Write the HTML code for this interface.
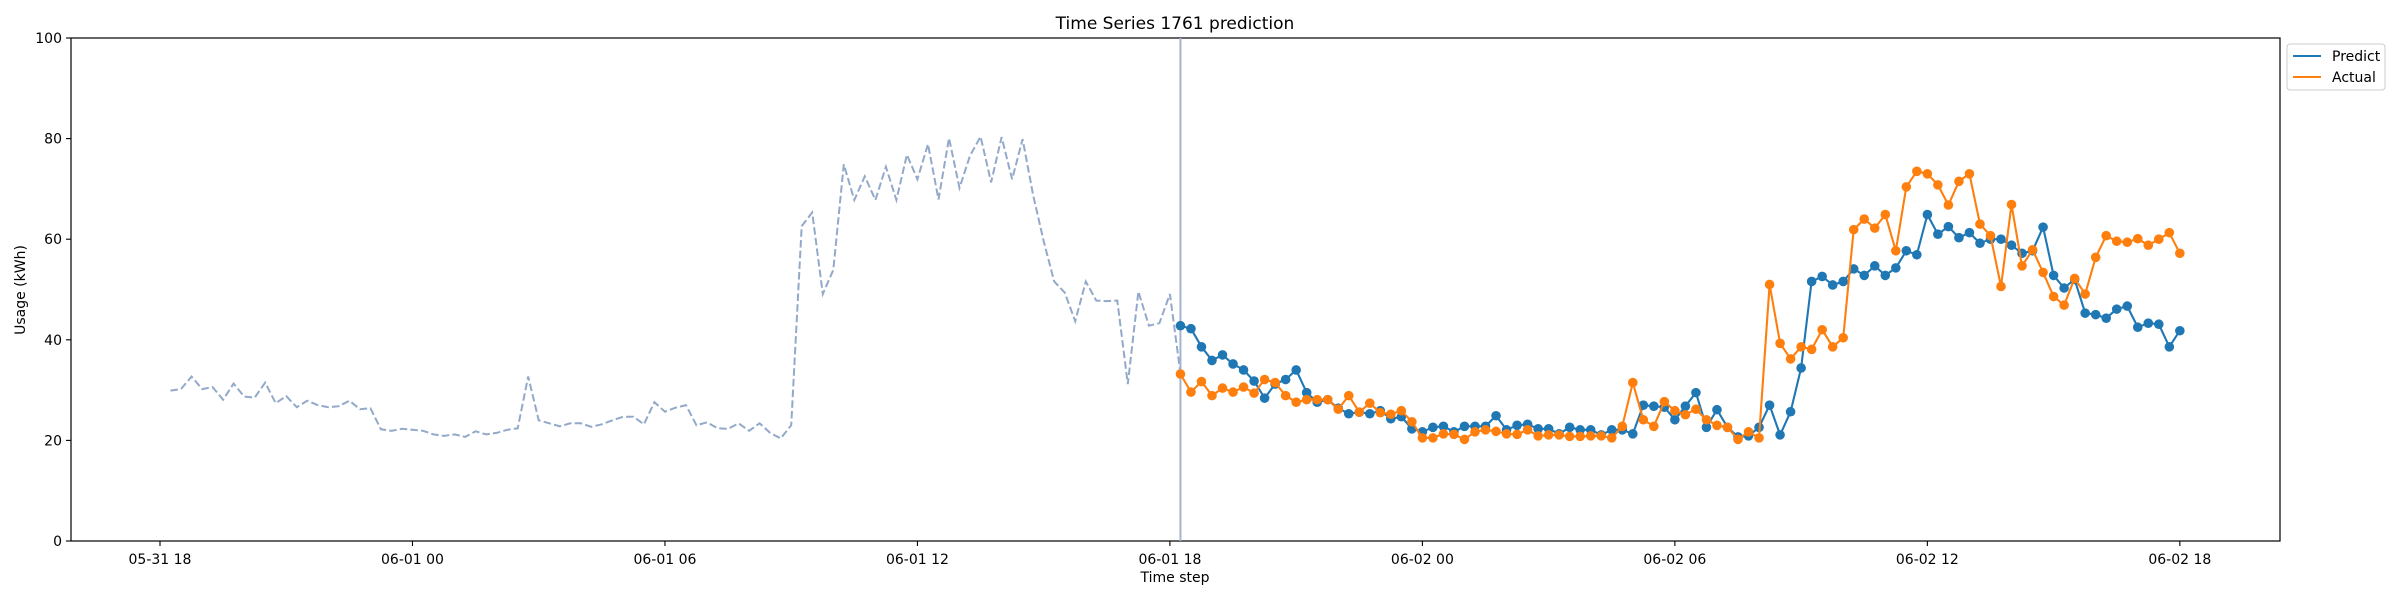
<!DOCTYPE html>
<html><head><meta charset="utf-8"><style>
html,body{margin:0;padding:0;background:#fff;}
svg{display:block;font-family:"DejaVu Sans","Liberation Sans",sans-serif;}
</style></head><body>
<svg id="chart" width="2400" height="600" viewBox="0 0 2400 600" xmlns="http://www.w3.org/2000/svg">
<rect x="0" y="0" width="2400" height="600" fill="#fff"/>
<text x="1175" y="29" font-size="17" text-anchor="middle" fill="#000">Time Series 1761 prediction</text>
<g id="plot"></g>
<text x="1175" y="582" font-size="14" text-anchor="middle" fill="#000">Time step</text>
<text transform="translate(25,290) rotate(-90)" font-size="14" text-anchor="middle" fill="#000">Usage (kWh)</text>
<g>
<rect x="2287" y="44" width="98" height="46" fill="#fff" stroke="#ccc" stroke-width="1" rx="3"/>
<line x1="2293" y1="56" x2="2321" y2="56" stroke="#1f77b4" stroke-width="2.1"/>
<text x="2332" y="61" font-size="14" fill="#000">Predict</text>
<line x1="2293" y1="77" x2="2321" y2="77" stroke="#ff7f0e" stroke-width="2.1"/>
<text x="2332" y="82" font-size="14" fill="#000">Actual</text>
</g>
</svg>
<script>
const history = [29.9,30.2,32.7,30.2,30.6,28.1,31.3,28.7,28.5,31.5,27.4,28.8,26.6,27.9,27.0,26.6,26.8,27.9,26.2,26.4,22.2,21.9,22.3,22.1,21.9,21.2,20.9,21.2,20.7,21.8,21.2,21.5,22.1,22.4,32.7,24.0,23.4,22.8,23.4,23.4,22.7,23.2,24.0,24.7,24.7,23.2,27.6,25.7,26.5,27.0,23.0,23.6,22.4,22.3,23.4,21.9,23.4,21.5,20.4,23.0,62.6,65.3,49.1,53.9,74.9,67.8,72.5,67.8,74.4,67.8,76.8,71.9,78.9,67.9,80.1,70.2,76.6,80.4,71.3,80.3,71.9,79.9,68.7,59.6,51.6,49.4,43.7,51.6,47.8,47.7,47.8,31.2,49.6,42.8,43.3,49.1,33.4];
const predict = [42.8,42.2,38.6,35.9,37.0,35.2,34.0,31.8,28.4,31.2,32.1,34.0,29.5,27.6,28.1,26.4,25.3,25.6,25.3,25.9,24.3,24.7,22.3,21.7,22.6,22.8,21.7,22.8,22.8,22.8,24.9,22.1,23.0,23.2,22.3,22.3,21.3,22.6,22.1,22.1,21.1,22.1,22.1,21.3,27.0,26.8,26.6,24.1,26.8,29.5,22.6,26.1,22.6,20.7,20.9,22.6,27.0,21.1,25.7,34.4,51.6,52.6,50.9,51.6,54.1,52.8,54.7,52.8,54.3,57.7,56.9,64.9,61.0,62.5,60.3,61.3,59.2,60.0,60.0,58.8,57.2,57.7,62.4,52.8,50.3,52.0,45.3,45.0,44.3,46.1,46.7,42.5,43.3,43.1,38.6,41.8];
const actual = [33.2,29.6,31.7,28.9,30.4,29.6,30.6,29.4,32.1,31.5,28.9,27.6,28.1,28.1,28.1,26.2,28.9,25.6,27.4,25.5,25.2,25.9,23.7,20.5,20.5,21.3,21.2,20.2,21.7,22.1,21.8,21.3,21.2,22.1,20.9,21.1,21.1,20.8,20.8,20.9,20.9,20.5,22.8,31.5,24.1,22.8,27.7,25.9,25.1,26.2,24.1,23.0,22.6,20.2,21.7,20.5,51.0,39.3,36.2,38.6,38.1,42.0,38.6,40.4,61.9,64.0,62.2,64.9,57.7,70.4,73.5,73.0,70.8,66.8,71.5,73.0,63.0,60.7,50.6,66.9,54.7,57.9,53.4,48.6,46.9,52.2,49.1,56.4,60.7,59.6,59.4,60.1,58.8,60.0,61.3,57.2];
const xTickLabels = ["05-31 18","06-01 00","06-01 06","06-01 12","06-01 18","06-02 00","06-02 06","06-02 12","06-02 18"];
const yTickLabels = ["0","20","40","60","80","100"];

const NS = "http://www.w3.org/2000/svg";
const L = 71, R = 2280, T = 38, B = 541;
const x0 = 160, pxPerHour = 42.08;
const histStart = 1;
const predStart = histStart + history.length - 1;
function xs(step){ return x0 + step * 0.25 * pxPerHour; }
function ys(v){ return B - (v / 100) * (B - T); }
const g = document.getElementById('plot');
function el(tag, attrs){ const e = document.createElementNS(NS, tag); for (const k in attrs) e.setAttribute(k, attrs[k]); g.appendChild(e); return e; }

const frame = el('rect', {x:L, y:T, width:R-L, height:B-T, fill:'none', stroke:'#000', 'stroke-width':1.2});



yTickLabels.forEach((lab, i) => {
  const v = parseFloat(lab), y = ys(v);
  const t = el('line', {x1:L-5, y1:y, x2:L, y2:y, stroke:'#000', 'stroke-width':1.1});
  
  
  const tx = el('text', {x:L-9, y:y+5, 'font-size':14, 'text-anchor':'end', fill:'#000'});
  tx.textContent = lab;
  
  
});
xTickLabels.forEach((lab, i) => {
  const x = xs(i * 24);
  const t = el('line', {x1:x, y1:B, x2:x, y2:B+5, stroke:'#000', 'stroke-width':1.1});
  
  
  const tx = el('text', {x:x, y:B+23, 'font-size':14, 'text-anchor':'middle', fill:'#000'});
  tx.textContent = lab;
  
  
});

const hp = history.map((v,i)=> xs(histStart+i).toFixed(1)+','+ys(v).toFixed(1)).join(' ');
const hl = el('polyline', {points:hp, fill:'none', stroke:'#93a9c9', 'stroke-width':2, 'stroke-dasharray':'7.5,3.2'});



const vx = xs(predStart);
const vl = el('line', {x1:vx, y1:T, x2:vx, y2:B, stroke:'#a3b3d3', 'stroke-width':2});



function series(arr, color, name){
  const pts = arr.map((v,i)=> xs(predStart+i).toFixed(1)+','+ys(v).toFixed(1)).join(' ');
  const pl = el('polyline', {points:pts, fill:'none', stroke:color, 'stroke-width':2.1, 'stroke-linejoin':'round'});
  
  
  arr.forEach((v,i)=>{
    const c = el('circle', {cx:xs(predStart+i), cy:ys(v), r:4.8, fill:color});
    
    
  });
}
series(predict, '#1f77b4', 'predict');
series(actual, '#ff7f0e', 'actual');
</script>
</body></html>
